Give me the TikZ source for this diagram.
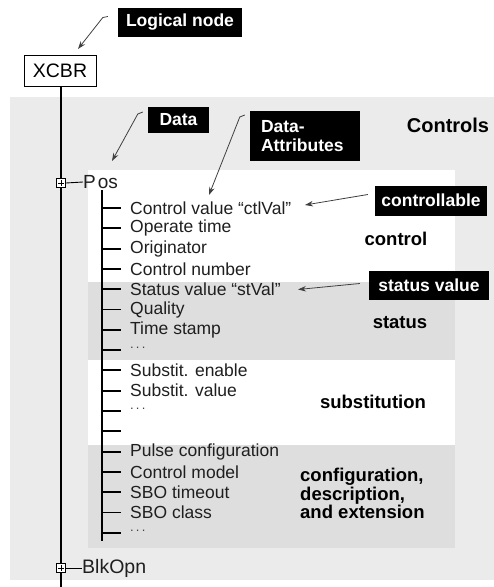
\documentclass[tikz,border=0pt]{standalone}
\usepackage{fontspec}
\setmainfont{Liberation Sans}
\usetikzlibrary{arrows.meta}
\definecolor{panel}{gray}{0.92}
\definecolor{bandgray}{gray}{0.87}
\definecolor{ink}{gray}{0.12}
\begin{document}
\begin{tikzpicture}[x=1pt,y=-1pt,
  tag/.style={fill=black,text=white,font=\bfseries\fontsize{17.5}{19}\selectfont,inner sep=0pt,align=left},
  item/.style={anchor=west,text=ink,font=\fontsize{17.5}{19}\selectfont,inner sep=0pt},
  dotsitem/.style={anchor=west,text=black!75,font=\fontsize{13}{14}\selectfont,inner sep=0pt,yshift=2pt},
  cat/.style={text=black,font=\bfseries\fontsize{18.5}{18.5}\selectfont,align=left,inner sep=0pt},
  pointer/.style={draw=black!75,line width=0.8pt,-{Stealth[length=8pt,width=5.5pt]}},
  tree/.style={draw=black,line width=1.9pt},
  expander/.style={draw=black,line width=0.9pt,fill=white,minimum size=9pt,inner sep=0pt},
]
\useasboundingbox (0,0) rectangle (494,587);

% background panel and the four attribute bands
\fill[panel] (10,97) rectangle (494,580);
\fill[white] (88,170) rectangle (455,282);
\fill[bandgray] (88,282) rectangle (455,360);
\fill[white] (88,360) rectangle (455,445);
\fill[bandgray] (88,445) rectangle (455,548);

% logical node
\node[draw=black,line width=0.8pt,fill=white,minimum width=72pt,minimum height=31pt,inner sep=0pt,
      font=\fontsize{19.5}{21}\selectfont] (xcbr) at (60,70.5) {XCBR};
\coordinate (spineend) at (61,587);
\draw[tree,line width=1.6pt] (xcbr.south -| spineend) -- (spineend);

% data objects
\node[expander] (posbox) at (61,183) {};
\draw[line width=0.9pt] (posbox.center) ++(-3,0) -- ++(6,0) (posbox.center) ++(0,-3) -- ++(0,6);
\node[item,font=\fontsize{19}{21}\selectfont] (pos) at (83,182) {P\kern2pt os};
\draw[line width=0.9pt] (posbox.east) -- (pos.west);

\node[expander] (blkbox) at (61,568) {};
\draw[line width=0.9pt] (blkbox.center) ++(-3,0) -- ++(6,0) (blkbox.center) ++(0,-3) -- ++(0,6);
\node[item,font=\fontsize{19.5}{21}\selectfont] (blk) at (82,568) {BlkOpn};
\draw[line width=0.9pt] (blkbox.east) -- (blk.west);

% data attributes of Pos
\coordinate (subtop) at (102,190);
\coordinate (subbot) at (102,541);
\draw[tree] (subtop) -- (subbot);
\foreach \t/\s [count=\i] in {%
  Control value ``ctlVal''/item,Operate time/item,Originator/item,Control number/item,%
  Status value ``stVal''/item,Quality/item,Time stamp/item,.\,.\,./dotsitem,%
  Substit. enable/item,Substit. value/item,.\,.\,./dotsitem,{}/item,%
  Pulse configuration/item,Control model/item,SBO timeout/item,SBO class/item,.\,.\,./dotsitem}{
  \node[\s] (r\i) at (130,{208+(\i-1)*20.3}) {\t};
  \draw[tree] (subtop |- 0,{208+(\i-1)*20.3}) -- ++(19,0);
}

% category captions
\node[cat,font=\bfseries\fontsize{20}{22}\selectfont] (controls) at (448,125) {Controls};
\node[cat] (ccontrol) at (396,239) {control};
\node[cat] (cstatus) at (400,323) {status};
\node[cat] (csubst) at (373,402) {substitution};
\node[cat,anchor=north west] (cconfig) at (300,468) {configuration,\\description,\\and extension};

% call-out tags
\node[tag,minimum width=124pt,minimum height=29pt] (tlogical) at (180,22.5) {Logical node};
\node[tag,minimum width=61pt,minimum height=26pt] (tdata) at (178.5,120) {Data};
\node[tag,minimum width=110pt,minimum height=50pt,text width=88pt] (tattr) at (305,136) {Data-\\Attributes};
\node[tag,minimum width=112pt,minimum height=30pt] (tctrl) at (431,200.5) {controllable};
\node[tag,minimum width=120pt,minimum height=29pt] (tstat) at (429,285.5) {status value};

% pointer tips
\coordinate (xcbrtip) at (78,49);
\coordinate (postip) at (112,161);
\coordinate (attrtip) at (209,195);
\coordinate (ctltip) at (305,205);
\coordinate (sttip) at (298,289.5);

% pointers, each leaving its tag with a short hook
\draw[pointer] ([shift={(-10,-6)}]tlogical.west) -- ++(-5,1) -- (xcbrtip);
\draw[pointer] ([shift={(-5,-8)}]tdata.west) -- ++(-5,2) -- (postip);
\draw[pointer] ([shift={(-5,-21)}]tattr.west) -- ++(-5,2) -- (attrtip);
\draw[pointer] ([shift={(-7,-6)}]tctrl.west) -- (ctltip);
\draw[pointer] ([shift={(-9,-2)}]tstat.west) -- (sttip);
\end{tikzpicture}
\end{document}
